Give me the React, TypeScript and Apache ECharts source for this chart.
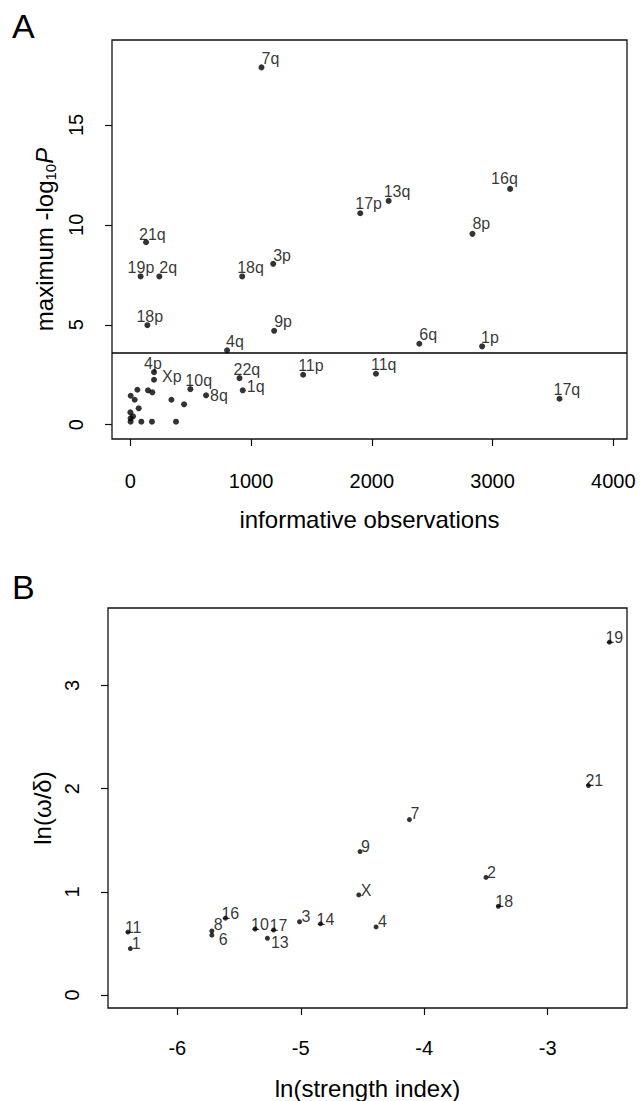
import React, { useEffect, useRef } from "react";
import * as echarts from "echarts";

// Panel A: chromosome arms, informative observations vs maximum -log10 P
const armNames = ["7q", "16q", "13q", "17p", "8p", "21q", "3p", "19p", "2q", "18q", "18p", "9p", "4q", "6q", "1p", "4p", "Xp", "22q", "11p", "11q", "10q", "1q", "8q", "17q"];
const armObservations = [1086, 3145, 2139, 1904, 2833, 130, 1183, 85, 240, 926, 141, 1191, 801, 2393, 2913, 196, 196, 904, 1431, 2034, 497, 931, 627, 3554];
const armMaxLogP = [17.88, 11.8, 11.2, 10.58, 9.55, 9.13, 8.05, 7.42, 7.42, 7.42, 4.98, 4.7, 3.72, 4.05, 3.92, 2.63, 2.25, 2.33, 2.5, 2.55, 1.78, 1.72, 1.47, 1.3];

// remaining arms, drawn without labels
const otherObservations = [3, 36, 58, 146, 182, 69, 340, 445, 0, 22, 2, 2, 91, 179, 378];
const otherMaxLogP = [1.45, 1.25, 1.75, 1.72, 1.62, 0.82, 1.25, 1.02, 0.62, 0.42, 0.32, 0.15, 0.15, 0.15, 0.15];

const significanceThreshold = 3.6;
const ticksObsA = [0, 1000, 2000, 3000, 4000];
const ticksLogPA = [0, 5, 10, 15];

// Panel B: whole chromosomes, ln(strength index) vs ln(omega/delta)
const chromNames = ["19", "21", "7", "9", "2", "X", "18", "16", "3", "14", "10", "17", "4", "11", "8", "6", "13", "1"];
const lnStrength = [-2.5, -2.67, -4.12, -4.52, -3.5, -4.53, -3.4, -5.61, -5.01, -4.84, -5.37, -5.22, -4.39, -6.4, -5.72, -5.72, -5.27, -6.38];
const lnRatio = [3.42, 2.03, 1.7, 1.39, 1.14, 0.97, 0.86, 0.745, 0.71, 0.69, 0.64, 0.63, 0.66, 0.61, 0.62, 0.58, 0.55, 0.45];

const ticksStrengthB = [-6, -5, -4, -3];
const ticksRatioB = [0, 1, 2, 3];

// label placement relative to each point: [dx, dy, verticalAlign]
type Place = [number, number, string?];
const placeA: Record<string, Place> = {
  "7q": [0, -1], "16q": [-19, -2], "13q": [-5, -1], "17p": [-5, -2], "8p": [0, -2], "21q": [-7, 0],
  "3p": [0, 0], "19p": [-13, -1], "2q": [0, -1], "18q": [-5, -1], "18p": [-11, -1], "9p": [0, -1],
  "4q": [-1, -1], "6q": [0, -1], "1p": [-1, -1], "4p": [-10, -1], "Xp": [8, -3.5, "middle"],
  "22q": [-6, -1], "11p": [-5, -1], "11q": [-5, -1], "10q": [-5, -1], "1q": [4, -3.5, "middle"],
  "8q": [4, 0, "middle"], "17q": [-6, -1],
};
const placeB: Record<string, Place> = {
  "19": [-4, 3], "21": [-3, 3], "7": [1, 2], "9": [1, 3], "2": [1, 3], "X": [2, 3.5], "18": [-3, 3],
  "16": [-4, 3], "3": [2, 2.5], "14": [-4, 3.5], "10": [-4, 3.5], "17": [-4, 3], "4": [2, 3],
  "11": [-3, 3], "8": [2, 1], "6": [7, -3.3, "top"], "13": [3.5, -3.3, "top"], "1": [1.5, 3],
};

const FONT = '"Liberation Sans", Arial, Helvetica, sans-serif';
const INK = "#111";

function labeledPoints(names: string[], xs: number[], ys: number[], place: Record<string, Place>) {
  return names.map((name, i) => {
    const p = place[name] || [0, 0];
    return {
      name,
      value: [xs[i], ys[i]],
      label: { offset: [p[0], p[1]], verticalAlign: p[2] || "bottom" },
    };
  });
}

function axisCommon(ticks: number[], rotate: number, margin: number) {
  return {
    type: "value" as const,
    axisLine: { show: false, onZero: false },
    splitLine: { show: false },
    axisTick: { show: true, length: 7, customValues: ticks, lineStyle: { color: INK, width: 1.2 } },
    axisLabel: {
      customValues: ticks,
      color: "#000",
      fontSize: 20,
      fontFamily: FONT,
      rotate,
      margin,
      formatter: (v: number) => String(v),
    },
    nameTextStyle: { color: "#000", fontSize: 24, fontFamily: FONT },
    nameLocation: "middle" as const,
  };
}

export default function App() {
  const ref = useRef<HTMLDivElement>(null);

  useEffect(() => {
    if (!ref.current) return;
    const chart = echarts.init(ref.current, undefined, { renderer: "svg" });

    const pointLabel = {
      show: true,
      position: "inside",
      align: "left",
      formatter: "{b}",
      color: "#000",
      textBorderWidth: 0,
      fontFamily: FONT,
    };

    chart.setOption({
      animation: false,
      backgroundColor: "#fff",
      grid: [
        { left: 112, top: 40, width: 515, height: 399, show: true, borderColor: INK, borderWidth: 1.3, backgroundColor: "transparent" },
        { left: 108, top: 608, width: 519, height: 400, show: true, borderColor: INK, borderWidth: 1.3, backgroundColor: "transparent" },
      ],
      xAxis: [
        {
          ...axisCommon(ticksObsA, 0, 32),
          gridIndex: 0,
          min: -152,
          max: 4113,
          name: "informative observations",
          nameGap: 68,
        },
        {
          ...axisCommon(ticksStrengthB, 0, 30),
          gridIndex: 1,
          min: -6.561,
          max: -2.358,
          name: "ln(strength index)",
          nameGap: 68,
        },
      ],
      yAxis: [
        {
          ...axisCommon(ticksLogPA, 90, 26),
          gridIndex: 0,
          min: -0.715,
          max: 19.25,
          name: "{t|maximum -log}{s|10}{i|P}",
          nameRotate: 90,
          nameGap: 54,
          nameTextStyle: {
            color: "#000",
            fontFamily: FONT,
            fontSize: 24,
            rich: {
              t: { fontSize: 24, fontFamily: FONT, lineHeight: 28 },
              s: { fontSize: 15, fontFamily: FONT, verticalAlign: "bottom", lineHeight: 14, padding: [8, 0, 0, 0] },
              i: { fontSize: 24, fontFamily: FONT, fontStyle: "italic", lineHeight: 28 },
            },
          },
        },
        {
          ...axisCommon(ticksRatioB, 90, 26),
          gridIndex: 1,
          min: -0.126,
          max: 3.751,
          name: "ln(\u03c9/\u03b4)",
          nameRotate: 90,
          nameGap: 50,
        },
      ],
      series: [
        {
          type: "scatter",
          xAxisIndex: 0,
          yAxisIndex: 0,
          symbol: "circle",
          symbolSize: 6,
          itemStyle: { color: "#000" },
          label: { ...pointLabel, fontSize: 16 },
          data: labeledPoints(armNames, armObservations, armMaxLogP, placeA),
          markLine: {
            silent: true,
            symbol: ["none", "none"],
            label: { show: false },
            lineStyle: { color: "#000", width: 1.6, type: "solid" },
            data: [{ yAxis: significanceThreshold }],
          },
        },
        {
          type: "scatter",
          xAxisIndex: 0,
          yAxisIndex: 0,
          symbol: "circle",
          symbolSize: 6,
          itemStyle: { color: "#000" },
          data: otherObservations.map((x, i) => [x, otherMaxLogP[i]]),
        },
        {
          type: "scatter",
          xAxisIndex: 1,
          yAxisIndex: 1,
          symbol: "circle",
          symbolSize: 5,
          itemStyle: { color: "#000" },
          label: { ...pointLabel, fontSize: 16 },
          data: labeledPoints(chromNames, lnStrength, lnRatio, placeB),
        },
      ],
      graphic: [
        { type: "text", left: 12, top: 9, style: { text: "A", fontSize: 34, fontFamily: FONT, fill: "#000" } },
        { type: "text", left: 12, top: 570, style: { text: "B", fontSize: 34, fontFamily: FONT, fill: "#000" } },
      ],
    });

    return () => chart.dispose();
  }, []);

  return <div ref={ref} style={{ position: "absolute", left: 0, top: 0, width: 641, height: 1101 }} />;
}
